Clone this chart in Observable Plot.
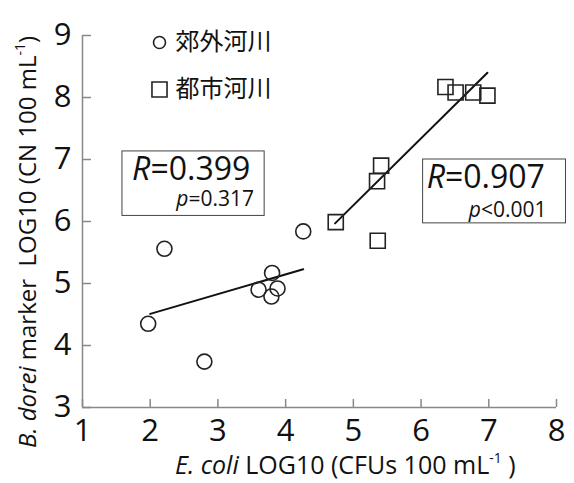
<!DOCTYPE html>
<html><head><meta charset="utf-8">
<script src="https://cdn.jsdelivr.net/npm/d3@7"></script>
<script src="https://cdn.jsdelivr.net/npm/@observablehq/plot@0.6"></script>
<style>body{margin:0;background:#fff;}</style>
</head><body><div id="chart"></div>
<script>
// ---- data ----
const seriesNames = ["郊外河川", "都市河川"];
const suburbanX = [1.97, 2.21, 2.80, 3.60, 3.80, 3.79, 3.88, 4.26];
const suburbanY = [4.35, 5.56, 3.74, 4.90, 5.17, 4.79, 4.92, 5.84];
const urbanX = [4.74, 5.36, 5.35, 5.41, 6.36, 6.51, 6.77, 6.98];
const urbanY = [5.99, 5.69, 6.65, 6.90, 8.17, 8.08, 8.08, 8.03];
const suburbanFitX = [2.00, 4.26];
const suburbanFitY = [4.51, 5.23];
const urbanFitX = [4.73, 6.98];
const urbanFitY = [5.97, 8.40];
const xTicks = [1, 2, 3, 4, 5, 6, 7, 8];
const yTicks = [3, 4, 5, 6, 7, 8, 9];
const rValues = ["0.399", "0.907"];
const pValues = ["=0.317", "<0.001"];

// ---- layout (annotation placement in data units) ----
const boxLayout = [
  {x1: 1.59, x2: 3.69, y1: 6.09, y2: 7.13, rx: 1.74, ry: 6.66, px: 3.54, py: 6.25},
  {x1: 6.03, x2: 8.14, y1: 5.97, y2: 7.00, rx: 6.09, ry: 6.53, px: 7.86, py: 6.06}
];

const suburban = suburbanX.map((x, i) => ({x, y: suburbanY[i]}));
const urban = urbanX.map((x, i) => ({x, y: urbanY[i]}));
const fitS = suburbanFitX.map((x, i) => ({x, y: suburbanFitY[i]}));
const fitU = urbanFitX.map((x, i) => ({x, y: urbanFitY[i]}));

const W = 574, H = 483, ML = 82, MR = 18, MT = 35, MB = 76;
const FW = W - ML - MR, FH = H - MT - MB;
const FONT = "'Open Sans', 'Liberation Sans', sans-serif";
const CJK = "'Noto Sans CJK JP', 'Noto Sans CJK SC', sans-serif";
const AX = "#888";
const fmt = d3.format("d");

const plot = Plot.plot({
  width: W, height: H,
  marginLeft: ML, marginRight: MR, marginTop: MT, marginBottom: MB,
  x: {domain: [1, 8]},
  y: {domain: [3, 9]},
  style: {fontFamily: FONT, color: "#111", background: "white", overflow: "visible"},
  marks: [
    Plot.tickY(yTicks, {y: d => d, insetRight: FW - 9, stroke: AX, strokeWidth: 1.5}),
    Plot.tickX(xTicks, {x: d => d, insetTop: FH - 8, stroke: AX, strokeWidth: 1.5}),
    Plot.ruleX([1], {stroke: AX, strokeWidth: 1.5}),
    Plot.ruleY([3], {stroke: AX, strokeWidth: 1.5}),
    Plot.axisX({ticks: xTicks, tickFormat: fmt, tickSize: 0, tickPadding: 11, fontSize: 31, label: null, fill: "#111"}),
    Plot.axisY({ticks: yTicks, tickFormat: fmt, tickSize: 0, tickPadding: 11, fontSize: 31, label: null, fill: "#111"}),
    Plot.line(fitS, {x: "x", y: "y", stroke: "#111", strokeWidth: 2}),
    Plot.line(fitU, {x: "x", y: "y", stroke: "#111", strokeWidth: 2}),
    Plot.dot(suburban, {x: "x", y: "y", r: 7.5, symbol: "circle", stroke: "#222", strokeWidth: 1.6, fill: "none"}),
    Plot.dot(urban, {x: "x", y: "y", r: 8.5, symbol: "square", stroke: "#222", strokeWidth: 1.6, fill: "none"}),
    Plot.rect(boxLayout, {x1: "x1", x2: "x2", y1: "y1", y2: "y2", fill: "white", stroke: "#444", strokeWidth: 1}),
    // legend
    Plot.dot([seriesNames[0]], {frameAnchor: "top-left", dx: 77, dy: 7, r: 6, symbol: "circle", stroke: "#222", strokeWidth: 1.6, fill: "none"}),
    Plot.dot([seriesNames[1]], {frameAnchor: "top-left", dx: 77, dy: 54, r: 8.5, symbol: "square", stroke: "#222", strokeWidth: 1.6, fill: "none"}),
    Plot.text([seriesNames[0]], {text: d => d, frameAnchor: "top-left", dx: 93, dy: 7, textAnchor: "start", lineAnchor: "middle", fontSize: 24, fontFamily: CJK, fill: "#111"}),
    Plot.text([seriesNames[1]], {text: d => d, frameAnchor: "top-left", dx: 93, dy: 54, textAnchor: "start", lineAnchor: "middle", fontSize: 24, fontFamily: CJK, fill: "#111"})
  ]
});

document.getElementById("chart").appendChild(plot);

const sx = plot.scale("x"), sy = plot.scale("y");
const svg = d3.select(plot);
const g = svg.append("g").attr("font-family", FONT).attr("fill", "#111").attr("text-anchor", "start");

boxLayout.forEach((b, i) => {
  const t = g.append("text").attr("x", sx.apply(b.rx)).attr("y", sy.apply(b.ry)).attr("font-size", 32);
  t.append("tspan").attr("font-style", "italic").text("R");
  t.append("tspan").text("=" + rValues[i]);
  const p = g.append("text").attr("x", sx.apply(b.px)).attr("y", sy.apply(b.py)).attr("font-size", 21).attr("text-anchor", "end");
  p.append("tspan").attr("font-style", "italic").text("p");
  p.append("tspan").text(pValues[i]);
});

// x axis title
const xt = g.append("text").attr("x", 175).attr("y", 474).attr("font-size", 25);
xt.append("tspan").attr("font-style", "italic").text("E. coli");
xt.append("tspan").text("\u00a0LOG10 (CFUs 100 mL");
xt.append("tspan").attr("font-size", 14).attr("dy", -11).text("-1");
xt.append("tspan").attr("dy", 11).text("\u00a0)");

// y axis title
const yt = g.append("text").attr("transform", "translate(36,448) rotate(-90)").attr("font-size", 24);
yt.append("tspan").attr("font-style", "italic").text("B. dorei");
yt.append("tspan").text("\u00a0marker\u00a0\u00a0LOG10 (CN 100 mL");
yt.append("tspan").attr("font-size", 14).attr("dy", -11).text("-1");
yt.append("tspan").attr("dy", 11).text(")");
</script>
</body></html>
